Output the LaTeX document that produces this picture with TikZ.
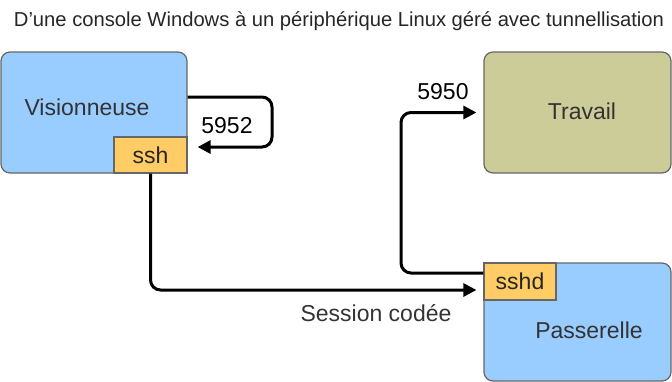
\documentclass[tikz,border=0pt]{standalone}
\usepackage{fontspec}
\setmainfont{Liberation Sans}
\usetikzlibrary{positioning, arrows.meta, calc}

\definecolor{visblue}{HTML}{99CCFF}
\definecolor{portorange}{HTML}{FFCC66}
\definecolor{workolive}{HTML}{CCCC99}

\begin{document}
\begin{tikzpicture}[
    x=1pt, y=-1pt,
    font=\fontsize{23}{27}\selectfont,
    hostbox/.style={
        rectangle, draw=black!60, line width=1.2pt, rounded corners=9pt,
        fill=visblue, inner sep=0pt
    },
    portbox/.style={
        rectangle, draw=black!60, line width=1.2pt,
        fill=portorange, inner sep=0pt, text=black!85
    },
    hostlabel/.style={text=black!80, inner sep=0pt},
    numlabel/.style={text=black, inner sep=0pt},
    arr/.style={-{Triangle[length=13pt,width=13pt]}, line width=3pt, rounded corners=10pt}
]
\useasboundingbox (0,0) rectangle (672,381);

% ---------------- Title ----------------
\node[text=black!85, font=\fontsize{20.2}{24}\selectfont] (title) at (339,21)
    {D'une console Windows à un périphérique Linux géré avec tunnellisation};

% ---------------- Hosts ----------------
\node[hostbox, minimum width=186pt, minimum height=121pt] (vis) at (94,112.5) {};
\node[hostlabel] (vis_lbl) at (87,107) {Visionneuse};
\node[portbox, minimum width=73pt, minimum height=36pt, anchor=south east] (ssh) at (vis.south east) {ssh};

\node[hostbox, fill=workolive, minimum width=187pt, minimum height=121pt] (trav) at (577.5,112.5) {};
\node[hostlabel] (trav_lbl) at (582,111) {Travail};

\node[hostbox, minimum width=187pt, minimum height=118pt] (pass) at (577.5,322) {};
\node[hostlabel] (pass_lbl) at (589,330) {Passerelle};
\node[portbox, minimum width=72pt, minimum height=37pt, anchor=north west] (sshd) at (pass.north west) {sshd};

% ---------------- Ports ----------------
\coordinate (loop_out) at ($(vis.east)+(0,-15.5)$);
\coordinate (loop_turn) at (272,122);
\coordinate (loop_in) at ($(vis.east)+(10,34.5)$);
\coordinate (ses_in) at ($(sshd.west)+(-7,8.5)$);
\coordinate (tun_out) at ($(sshd.west)+(0,-8.5)$);
\coordinate (tun_turn) at (401,200);

\node[numlabel] (port_vis) at (227,126) {5952};
\node[numlabel] (port_trav) at (443,92) {5950};
\node[hostlabel] (ses_lbl) at (376,313) {Session codée};

% ---------------- Arrows ----------------
\draw[arr] (loop_out) -| (loop_turn) |- (loop_in);
\draw[arr] (ssh.south) |- (ses_in);
\draw[arr] (tun_out) -| (tun_turn) |- ([xshift=-7pt]trav.west);

\end{tikzpicture}
\end{document}
